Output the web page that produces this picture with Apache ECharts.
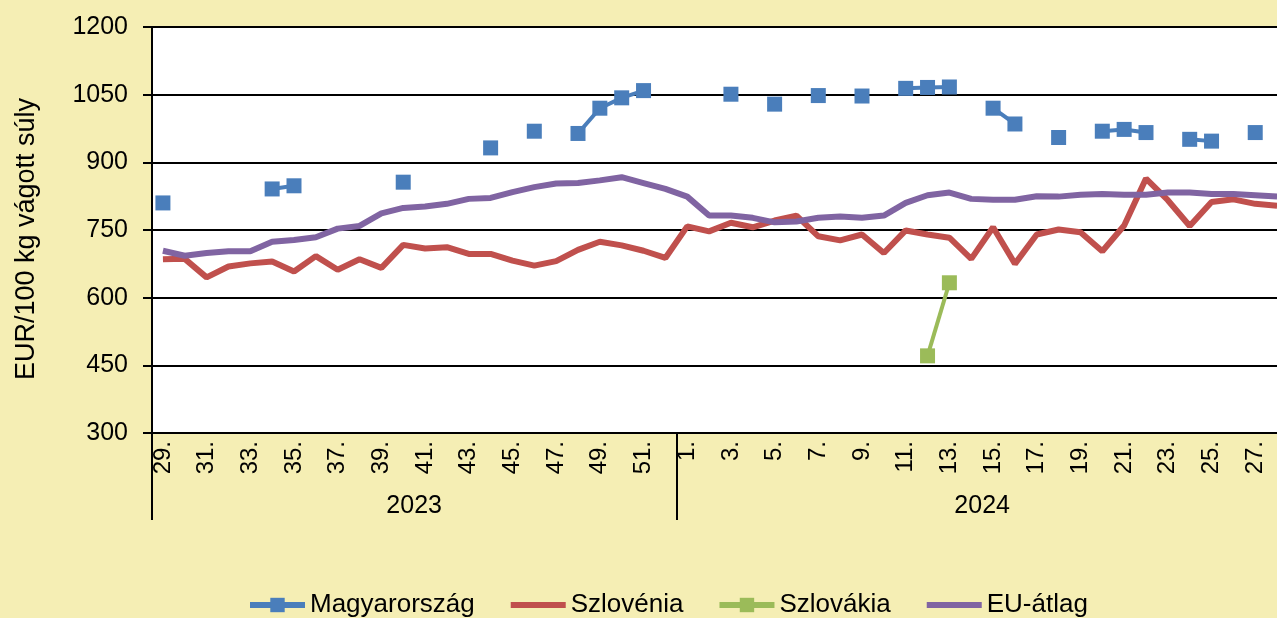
<!DOCTYPE html>
<html>
<head>
<meta charset="utf-8">
<script src="https://cdn.jsdelivr.net/npm/echarts@6/dist/echarts.min.js"></script>
<style>
  html, body { margin: 0; padding: 0; overflow: hidden; background: #F5EEB4; }
  #chart { width: 1300px; height: 618px; }
</style>
</head>
<body>
<div id="chart"></div>
<script>
// Weekly categories: 2023 weeks 29–52, then 2024 weeks 1–28
const weeks = [
  '29.','30.','31.','32.','33.','34.','35.','36.','37.','38.','39.','40.',
  '41.','42.','43.','44.','45.','46.','47.','48.','49.','50.','51.','52.',
  '1.','2.','3.','4.','5.','6.','7.','8.','9.','10.','11.','12.','13.','14.',
  '15.','16.','17.','18.','19.','20.','21.','22.','23.','24.','25.','26.','27.','28.'
];
const years = ['2023', '2024'];
const yearStart = [0, 24];       // first category index of each year
const yearEnd = 52;

// Prices, EUR/100 kg carcass weight
const magyarorszag = [
  810, null, null, null, null, 841, 848, null, null, null, null, 856,
  null, null, null, 932, null, 969, null, 964, 1020, 1043, 1059, null,
  null, null, 1051, null, 1029, null, 1048, null, 1047, null, 1064, 1066, 1067, null,
  1020, 985, null, 955, null, 969, 973, 966, null, 951, 947, null, 966, null
];
const szlovenia = [
  685, 686, 645, 669, 676, 680, 658, 692, 662, 685, 666, 717,
  709, 712, 697, 697, 682, 671, 681, 706, 724, 716, 704, 688,
  758, 747, 766, 756, 771, 782, 736, 727, 740, 699, 749, 740, 733, 686,
  756, 675, 740, 751, 745, 703, 760, 864, 816, 759, 812, 818, 808, 804
];
const szlovakia = [
  null, null, null, null, null, null, null, null, null, null, null, null,
  null, null, null, null, null, null, null, null, null, null, null, null,
  null, null, null, null, null, null, null, null, null, null, null, 471, 633, null,
  null, null, null, null, null, null, null, null, null, null, null, null, null, null
];
const euAtlag = [
  704, 693, 699, 703, 703, 724, 728, 734, 753, 759, 787, 799,
  802, 808, 819, 821, 834, 845, 853, 854, 860, 867, 854, 841,
  824, 782, 782, 777, 767, 769, 777, 780, 777, 782, 810, 827, 833, 819,
  817, 817, 825, 824, 828, 830, 828, 828, 833, 833, 830, 830, 827, 824
];

const FONT = 'Liberation Sans, Arial, sans-serif';
const chart = echarts.init(document.getElementById('chart'), null, { renderer: 'canvas' });

const yearMid = yearStart.map((s, i) => ((i + 1 < yearStart.length ? yearStart[i + 1] : yearEnd) + s) / 2);

chart.setOption({
  backgroundColor: '#F5EEB4',
  animation: false,
  textStyle: { fontFamily: FONT },
  grid: {
    left: 152, right: 12, top: 27, bottom: 185,
    show: true, backgroundColor: '#ffffff', borderWidth: 0,
    outerBoundsMode: 'none'
  },
  legend: {
    left: 242, top: 587,
    itemWidth: 55, itemHeight: 18, itemGap: 33,
    lineStyle: { width: 6 },
    textStyle: { fontSize: 26, color: '#000', fontFamily: FONT },
    data: [
      { name: 'Magyarország' },
      { name: 'Szlovénia', itemStyle: { opacity: 0 } },
      { name: 'Szlovákia' },
      { name: 'EU-átlag', itemStyle: { opacity: 0 } }
    ]
  },
  xAxis: [
    {
      type: 'category',
      data: weeks,
      boundaryGap: true,
      axisLine: { show: true, lineStyle: { color: '#000', width: 2 } },
      axisTick: { show: false },
      axisLabel: {
        interval: 1, rotate: 90, margin: 8,
        fontSize: 24, color: '#000', fontFamily: FONT
      },
      splitLine: { show: false }
    },
    {
      type: 'value',
      position: 'bottom',
      min: 0, max: yearEnd,
      axisLine: { show: false },
      splitLine: { show: false },
      axisTick: {
        show: true, customValues: yearStart.concat([yearEnd]), length: 87,
        lineStyle: { color: '#000', width: 2 }
      },
      axisLabel: {
        customValues: yearMid, margin: 61,
        fontSize: 25, color: '#000', fontFamily: FONT,
        formatter: v => years[yearMid.indexOf(v)] || ''
      }
    }
  ],
  yAxis: {
    type: 'value',
    min: 300, max: 1200, interval: 150,
    name: 'EUR/100 kg vágott súly',
    nameLocation: 'middle', nameGap: 112, nameRotate: 90,
    nameTextStyle: { fontSize: 27, color: '#000', fontFamily: FONT, padding: [0, 18, 0, 0] },
    axisLine: { show: true, lineStyle: { color: '#000', width: 2 } },
    axisTick: { show: true, length: 9, lineStyle: { color: '#000', width: 2 } },
    axisLabel: { fontSize: 25, color: '#000', margin: 24, fontFamily: FONT, formatter: v => String(v) },
    splitLine: { show: true, lineStyle: { color: '#000', width: 2 } }
  },
  series: [
    {
      name: 'Magyarország', type: 'line', data: magyarorszag,
      connectNulls: false, symbol: 'rect', symbolSize: 15,
      showSymbol: true, showAllSymbol: true,
      color: '#4A7EBB', lineStyle: { width: 4, color: '#4A7EBB' },
      itemStyle: { color: '#4A7EBB' }, z: 4
    },
    {
      name: 'Szlovénia', type: 'line', data: szlovenia,
      symbol: 'none', color: '#C0504D',
      lineStyle: { width: 6, color: '#C0504D' }, z: 2
    },
    {
      name: 'Szlovákia', type: 'line', data: szlovakia,
      connectNulls: false, symbol: 'rect', symbolSize: 15,
      showSymbol: true, showAllSymbol: true,
      color: '#9BBB59', lineStyle: { width: 4, color: '#9BBB59' },
      itemStyle: { color: '#9BBB59' }, z: 4
    },
    {
      name: 'EU-átlag', type: 'line', data: euAtlag,
      symbol: 'none', color: '#8064A2',
      lineStyle: { width: 6, color: '#8064A2' }, z: 3
    }
  ]
});
</script>
</body>
</html>
